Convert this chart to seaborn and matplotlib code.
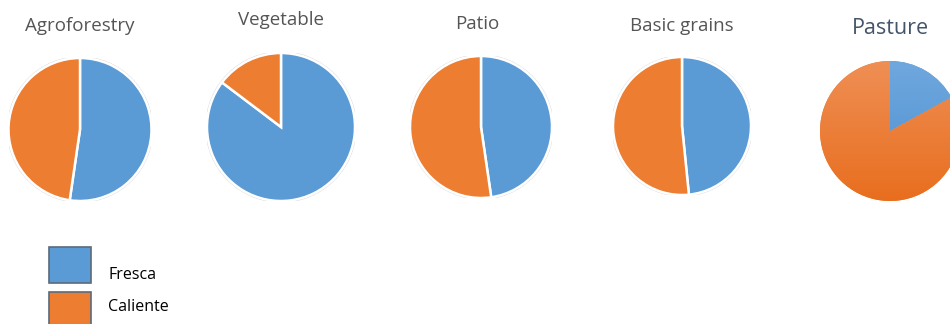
import numpy as np
import matplotlib
matplotlib.use("Agg")
import matplotlib.pyplot as plt
from matplotlib.patches import Rectangle, Circle
from matplotlib.colors import LinearSegmentedColormap
import seaborn as sns

# Data (share of each zone)
categories = ['Agroforestry', 'Vegetable', 'Patio', 'Basic grains', 'Pasture']
fresca = [0.523, 0.853, 0.477, 0.484, 0.17]
caliente = [0.477, 0.147, 0.523, 0.516, 0.83]
series_names = ['Fresca', 'Caliente']

sns.set_theme(style='white')
plt.rcParams['font.family'] = ['Open Sans', 'DejaVu Sans']

colors = ['#5B9BD5', '#ED7D31']

W, H = 950, 324
fig = plt.figure(figsize=(W / 100, H / 100), dpi=100)

# pie centre (px), radius (px), title position (px), title size, title colour
layout = [
    (80, 129.5, 71.5, 80, 26, 13.5, '#555555'),
    (281, 127, 74, 281, 20, 13.5, '#555555'),
    (481, 127, 71, 477, 24, 13.5, '#555555'),
    (682, 126, 69, 682, 26, 13.5, '#555555'),
    (890, 131, 70, 890, 28, 15.5, '#44546A'),
]

for i, name in enumerate(categories):
    cx, cy, r, tx, ty, tsize, tcol = layout[i]
    ax = fig.add_axes([(cx - r) / W, (H - cy - r) / H, 2 * r / W, 2 * r / H])
    vals = [fresca[i], caliente[i]]
    if name == 'Pasture':
        wedges, _ = ax.pie(vals, colors=colors, startangle=90, counterclock=False,
                           wedgeprops=dict(linewidth=0))
        grads = [('#70A8DE', '#4A8ED0'), ('#EF8F55', '#E86E1E')]
        grad = np.linspace(0, 1, 256).reshape(-1, 1)
        for w, (top, bot) in zip(wedges, grads):
            cmap = LinearSegmentedColormap.from_list('g', [top, bot])
            im = ax.imshow(grad, extent=(-1, 1, -1, 1), cmap=cmap, aspect='auto',
                           origin='upper', zorder=3)
            im.set_clip_path(w)
    else:
        wedges, _ = ax.pie(vals, colors=colors, startangle=90, counterclock=False,
                           wedgeprops=dict(edgecolor='white', linewidth=1.8))
        ax.add_patch(Circle((0, 0), 1.015, fill=False, edgecolor='#D9D9D9',
                            linewidth=0.8, zorder=0))
    ax.set_xlim(-1.0, 1.0)
    ax.set_ylim(-1.0, 1.0)
    ax.set_aspect('auto')
    ax.axis('off')
    fig.text(tx / W, 1 - ty / H, name, ha='center', va='center',
             fontsize=tsize, color=tcol)

# legend drawn as boxes + labels
legend_boxes = [(49, 247, 42, 36), (49, 292, 42, 36)]
legend_text_y = [275, 307]
for (x, y, w, h), c, lab, ly in zip(legend_boxes, colors, series_names, legend_text_y):
    fig.patches.append(Rectangle((x / W, 1 - (y + h) / H), w / W, h / H,
                                 transform=fig.transFigure, facecolor=c,
                                 edgecolor='#5A6A7C', linewidth=1.2))
    fig.text(108 / W, 1 - ly / H, lab, ha='left', va='center',
             fontsize=11.5, color='black')

fig.savefig('out.png', dpi=100, facecolor='white')
